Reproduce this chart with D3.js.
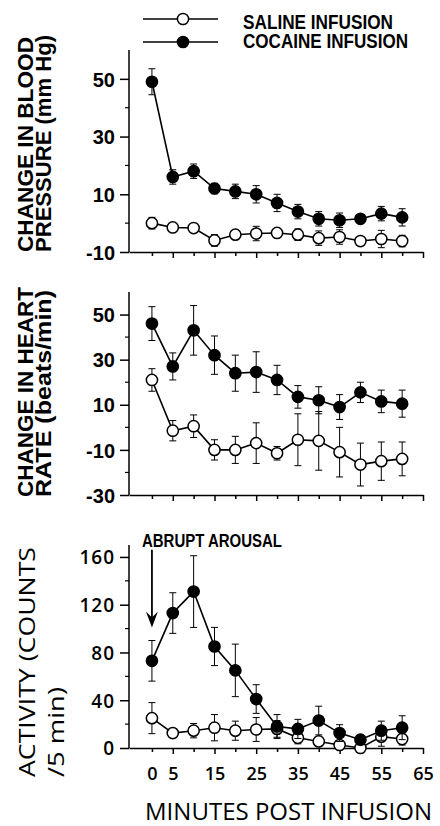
<!DOCTYPE html>
<meta charset="utf-8">
<title>cocaine vs saline infusion</title>
<style>
body {
  margin: 0px;
  background: #fff;
}
svg text {
  fill: #000;
}
.axis path, .axis line {
  stroke: #000;
  stroke-width: 1.5;
}
.tickbold text {
  font-family: "Liberation Sans", Arial, sans-serif;
  font-weight: bold;
  font-size: 20px;
}
.tickreg text {
  font-family: "Open Sans", sans-serif;
  font-weight: 600;
  font-size: 19px;
}
.series {
  fill: none;
  stroke: #000;
  stroke-width: 1.6;
}
.err {
  stroke: #000;
  stroke-width: 1;
}
</style>
<body>
<svg id="chart" width="440" height="826"></svg>

<script src="https://cdn.jsdelivr.net/npm/d3@7"></script>
<script>

// minutes post infusion
var minutes = [0, 5, 10, 15, 20, 25, 30, 35, 40, 45, 50, 55, 60];
var xTicks = [0, 5, 10, 15, 20, 25, 30, 35, 40, 45, 50, 55, 60, 65];
var xTickLabels = ["0", "5", "", "15", "", "25", "", "35", "", "45", "", "55", "", "65"];

// change in blood pressure (mm Hg)
var bpCocaine    = [49, 16, 18, 12, 11, 10, 7, 4, 1.5, 1, 1.5, 3.3, 2];
var bpCocaineErr = [4.5, 2.5, 2.5, 1.8, 2.5, 3, 3, 2.5, 2.5, 2.5, 1.5, 2.5, 3];
var bpSaline     = [0, -1.5, -1.7, -6, -4, -3.6, -3.4, -4, -5.2, -4.8, -6.2, -5.5, -6.2];
var bpSalineErr  = [2, 1, 1, 2, 1.5, 2.5, 1.5, 2, 2.5, 2.5, 1.5, 3, 2];
var bpTicks = [-10, 10, 30, 50];
var bpMinor = [0, 20, 40];

// change in heart rate (beats/min)
var hrCocaine    = [46, 27, 43, 32, 24, 24.5, 21, 13.5, 12, 9, 15.5, 11.5, 10.5];
var hrCocaineErr = [7.5, 6, 11, 8.5, 8, 9, 6.5, 5, 6, 5.5, 4.5, 5, 6];
var hrSaline     = [21, -1.5, 0.5, -10, -10, -7, -11.5, -5.5, -6, -11, -16.5, -15, -14];
var hrSalineErr  = [5, 4.5, 5, 4.5, 6, 9, 3, 11.5, 13, 11, 9.5, 8.5, 7.5];
var hrTicks = [-30, -10, 10, 30, 50];
var hrMinor = [-20, 0, 20, 40];

// activity (counts / 5 min)
var actCocaine    = [73, 113, 131, 85, 65, 41, 18, 16, 23, 12.5, 7, 14.5, 17];
var actCocaineErr = [17, 17, 30, 16, 22, 12, 10, 8, 12, 7, 3, 8, 10];
var actSaline     = [25, 12.5, 14.5, 17, 14.5, 15.5, 16, 8.5, 5.5, 2.5, 0, 9.5, 7.5];
var actSalineErr  = [13, 3, 6, 11, 8, 10, 7, 5, 3, 3, 2, 8, 5];
var actTicks = [0, 40, 80, 120, 160];
var actMinor = [20, 60, 100, 140];

var svg = d3.select("#chart");

var x = d3.scaleLinear().domain([-5.5, 65]).range([129, 423]);

function drawPanel(p) {
  var y = d3.scaleLinear().domain(p.domain).range([p.bottom, p.top]);
  var g = svg.append("g");

  // y axis
  var yAxis = g.append("g")
      .attr("class", "axis " + p.tickClass)
      .attr("transform", "translate(129,0)")
      .call(d3.axisLeft(y).tickValues(p.ticks).tickSize(9).tickPadding(5).tickSizeOuter(0).tickFormat(function(d) { return d < 0 ? "-" + Math.abs(d) : d; }));
  yAxis.select(".domain").attr("d", "M0," + p.bottom + "V" + p.top);
  yAxis.selectAll("text").attr("dy", "0.36em");
  if (p.spacing) yAxis.selectAll("text").attr("letter-spacing", p.spacing);

  g.append("g").selectAll("line")
      .data(p.minor)
      .enter().append("line")
      .attr("x1", 125).attr("x2", 129)
      .attr("y1", function(d) { return y(d); })
      .attr("y2", function(d) { return y(d); })
      .attr("stroke", "#000").attr("stroke-width", 1.2);

  // x axis
  var xAxis = g.append("g")
      .attr("class", "axis")
      .attr("transform", "translate(0," + p.bottom + ")")
      .call(d3.axisBottom(x).tickValues(xTicks).tickSize(5).tickSizeOuter(0)
        .tickFormat(function(d, i) { return p.labels ? xTickLabels[i] : ""; }));
  xAxis.selectAll(".tick line").attr("y2", function(d) { return (d % 10 === 5) ? 6 : 4; });
  xAxis.selectAll("text")
      .attr("y", 32).attr("dy", null)
      .style("font-family", "'Open Sans', sans-serif")
      .style("font-weight", "600")
      .style("font-size", "18px");

  var line = d3.line()
      .x(function(d, i) { return x(minutes[i]); })
      .y(function(d) { return y(d); });

  [[p.saline, p.salineErr, "#fff"], [p.cocaine, p.cocaineErr, "#000"]].forEach(function(s) {
    var vals = s[0], errs = s[1];
    g.append("path").attr("class", "series").attr("d", line(vals));

    var eb = g.append("g").selectAll("g")
        .data(vals)
        .enter().append("g")
        .attr("class", "err");
    eb.append("line")
        .attr("x1", function(d, i) { return x(minutes[i]); })
        .attr("x2", function(d, i) { return x(minutes[i]); })
        .attr("y1", function(d, i) { return y(d - errs[i]); })
        .attr("y2", function(d, i) { return y(d + errs[i]); });
    eb.append("line")
        .attr("x1", function(d, i) { return x(minutes[i]) - 3.5; })
        .attr("x2", function(d, i) { return x(minutes[i]) + 3.5; })
        .attr("y1", function(d, i) { return y(d + errs[i]); })
        .attr("y2", function(d, i) { return y(d + errs[i]); });
    eb.append("line")
        .attr("x1", function(d, i) { return x(minutes[i]) - 3.5; })
        .attr("x2", function(d, i) { return x(minutes[i]) + 3.5; })
        .attr("y1", function(d, i) { return y(d - errs[i]); })
        .attr("y2", function(d, i) { return y(d - errs[i]); });

    g.append("g").selectAll("circle")
        .data(vals)
        .enter().append("circle")
        .attr("cx", function(d, i) { return x(minutes[i]); })
        .attr("cy", function(d) { return y(d); })
        .attr("r", 5.6)
        .attr("fill", s[2])
        .attr("stroke", "#000")
        .attr("stroke-width", 1.5);
  });

  // rotated y labels
  p.title.forEach(function(t) {
    g.append("text")
        .attr("transform", "translate(" + t.x + "," + t.y + ") rotate(-90)")
        .attr("textLength", t.len)
        .attr("lengthAdjust", "spacingAndGlyphs")
        .style("font-family", p.titleFont)
        .style("font-weight", p.titleWeight)
        .style("font-size", p.titleSize + "px")
        .text(t.text);
  });
  return y;
}

drawPanel({
  domain: [-10, 60], top: 50, bottom: 252,
  ticks: bpTicks, minor: bpMinor, tickClass: "tickbold",
  cocaine: bpCocaine, cocaineErr: bpCocaineErr,
  saline: bpSaline, salineErr: bpSalineErr,
  titleFont: "'Liberation Sans', Arial, sans-serif", titleWeight: "bold", titleSize: 22,
  title: [
    {text: "CHANGE IN BLOOD", x: 33, y: 252, len: 215},
    {text: "PRESSURE (mm Hg)", x: 51, y: 252, len: 217}
  ]
});

drawPanel({
  domain: [-30, 60], top: 292, bottom: 495,
  ticks: hrTicks, minor: hrMinor, tickClass: "tickbold",
  cocaine: hrCocaine, cocaineErr: hrCocaineErr,
  saline: hrSaline, salineErr: hrSalineErr,
  titleFont: "'Liberation Sans', Arial, sans-serif", titleWeight: "bold", titleSize: 22,
  title: [
    {text: "CHANGE IN HEART", x: 33, y: 497, len: 210},
    {text: "RATE (beats/min)", x: 51, y: 497, len: 207}
  ]
});

var yAct = drawPanel({
  domain: [0, 170], top: 545, bottom: 748,
  ticks: actTicks, minor: actMinor, tickClass: "tickreg", spacing: "1px",
  labels: true,
  cocaine: actCocaine, cocaineErr: actCocaineErr,
  saline: actSaline, salineErr: actSalineErr,
  titleFont: "'Open Sans', sans-serif", titleWeight: "normal", titleSize: 21,
  title: [
    {text: "ACTIVITY (COUNTS", x: 35, y: 777, len: 230},
    {text: "/5 min)", x: 64, y: 777, len: 90}
  ]
});

// abrupt arousal arrow
var ax = x(0);
svg.append("line")
    .attr("x1", ax).attr("x2", ax)
    .attr("y1", yAct(166)).attr("y2", yAct(106))
    .attr("stroke", "#000").attr("stroke-width", 1.8);
var tip = yAct(101);
svg.append("path")
    .attr("d", "M" + ax + "," + tip + "L" + (ax - 6) + "," + (tip - 16) + "L" + ax + "," + (tip - 10) + "L" + (ax + 6) + "," + (tip - 16) + "Z")
    .attr("fill", "#000");
svg.append("text")
    .attr("x", 142).attr("y", 547)
    .attr("textLength", 140)
    .attr("lengthAdjust", "spacingAndGlyphs")
    .style("font-family", "'Liberation Sans Narrow', 'Liberation Sans', Arial, sans-serif")
    .style("font-weight", "bold")
    .style("font-size", "18px")
    .text("ABRUPT AROUSAL");

// x title
svg.append("text")
    .attr("x", 145).attr("y", 820)
    .attr("textLength", 287)
    .attr("lengthAdjust", "spacingAndGlyphs")
    .style("font-family", "'Open Sans', sans-serif")
    .style("font-size", "23px")
    .text("MINUTES POST INFUSION");

// legend
var legend = [
  {label: "SALINE INFUSION", fill: "#fff", y: 19, ty: 29, len: 150},
  {label: "COCAINE INFUSION", fill: "#000", y: 42, ty: 47.5, len: 165}
];
var lg = svg.append("g").selectAll("g").data(legend).enter().append("g");
lg.append("line")
    .attr("x1", 143).attr("x2", 218)
    .attr("y1", function(d) { return d.y; }).attr("y2", function(d) { return d.y; })
    .attr("stroke", "#000").attr("stroke-width", 1.6);
lg.append("circle")
    .attr("cx", 183).attr("cy", function(d) { return d.y; })
    .attr("r", 5.6)
    .attr("fill", function(d) { return d.fill; })
    .attr("stroke", "#000").attr("stroke-width", 1.5);
lg.append("text")
    .attr("x", 243).attr("y", function(d) { return d.ty; })
    .attr("textLength", function(d) { return d.len; })
    .attr("lengthAdjust", "spacingAndGlyphs")
    .style("font-family", "'Liberation Sans Narrow', 'Liberation Sans', Arial, sans-serif")
    .style("font-weight", "bold")
    .style("font-size", "19.5px")
    .text(function(d) { return d.label; });

</script>
</body>
